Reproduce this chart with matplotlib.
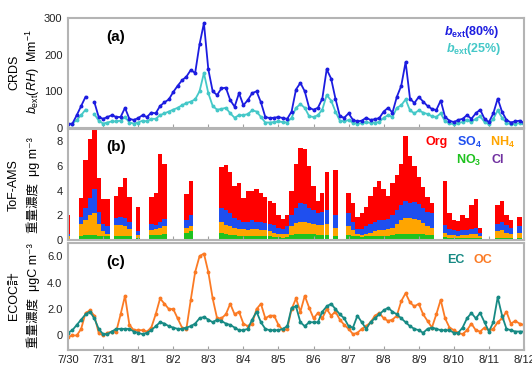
import numpy as np
import matplotlib
matplotlib.use("Agg")
import matplotlib.pyplot as plt

plt.rcParams['font.family'] = ['Liberation Sans', 'Noto Sans CJK JP', 'DejaVu Sans']
plt.rcParams['mathtext.fontset'] = 'custom'
plt.rcParams['mathtext.rm'] = 'Liberation Sans'
plt.rcParams['mathtext.it'] = 'Liberation Sans:italic'
plt.rcParams['mathtext.bf'] = 'Liberation Sans:bold'
plt.rcParams['mathtext.bfit'] = 'Liberation Sans:italic:bold'

nan = np.nan
day_labels = ['7/30', '7/31', '8/1', '8/2', '8/3', '8/4', '8/5', '8/6',
              '8/7', '8/8', '8/9', '8/10', '8/11', '8/12']

# 3-hourly values, one row per day
b80 = [11, 12, 35, 60, 85, nan, 71, 30,
       25, 30, 35, 30, 30, 55, 25, 22,
       27, 35, 30, 42, 40, 60, 70, 78,
       98, 115, 130, 140, 158, 150, 228, 286,
       160, 100, 90, 108, 110, 76, 58, 95,
       62, 76, 95, 100, 70, 30, 27, 28,
       30, 27, 25, 45, 105, 123, 100, 55,
       50, 55, 80, 160, 135, 80, 32, 28,
       40, 22, 18, 20, 28, 22, 24, 27,
       45, 55, 42, 85, 115, 180, 80, 68,
       85, 72, 60, 52, 49, 75, 30, 20,
       16, 22, 25, 35, 25, 40, 50, 25,
       16, 40, 80, 44, 22, 15, 18, 20,
       14]
b25 = [10, 12, 22, 35, 50, nan, 38, 20,
       12, 15, 18, 18, 20, 30, 15, 12,
       15, 20, 18, 25, 25, 35, 40, 45,
       50, 55, 62, 68, 72, 78, 100, 150,
       95, 60, 50, 52, 55, 40, 28, 35,
       35, 38, 48, 45, 30, 15, 15, 16,
       18, 16, 15, 28, 55, 65, 55, 32,
       30, 35, 50, 90, 75, 45, 20, 18,
       22, 14, 12, 13, 16, 14, 15, 16,
       28, 35, 30, 55, 62, 78, 48, 40,
       48, 42, 38, 32, 30, 40, 18, 13,
       10, 14, 16, 22, 16, 25, 32, 16,
       10, 25, 48, 28, 14, 10, 12, 13,
       10]

org = [1.5, 0, 0, 1.5, 3.9, 4.8, 4.8, 2.7,
       2.0, 2.2, 0, 1.8, 2.4, 3.2, 2.0, 0,
       2.0, 0, 0, 2.2, 2.6, 5.5, 4.5, 0,
       0, 0, 0, 2.1, 2.8, 0, 0, 0,
       0, 0, 0, 3.3, 3.7, 3.3, 2.6, 3.0,
       1.9, 2.5, 2.4, 2.6, 2.3, 2.1, 1.9, 1.8,
       1.0, 0.8, 0.9, 2.0, 3.6, 4.5, 4.5, 3.4,
       2.0, 1.0, 1.5, 3.1, 0, 3.7, 0, 0,
       1.6, 1.5, 1.0, 1.3, 1.6, 2.3, 2.8, 3.2,
       2.5, 1.9, 2.6, 2.9, 3.4, 5.2, 3.8, 2.9,
       2.2, 1.7, 1.2, 0.8, 0, 0, 3.6, 1.3,
       0.8, 0.8, 1.2, 1.0, 1.9, 2.3, 0.4, 0,
       0, 0, 1.5, 1.7, 0.8, 0.6, 0, 0.8,
       0]
so4 = [0.2, 0, 0, 0.6, 1.0, 1.4, 1.9, 1.0,
       0.6, 0.6, 0, 0.6, 0.7, 0.7, 0.6, 0,
       0.3, 0, 0, 0.5, 0.3, 0.5, 0.6, 0,
       0, 0, 0, 0.6, 0.9, 0, 0, 0,
       0, 0, 0, 1.1, 1.2, 1.1, 0.8, 0.7,
       0.6, 0.7, 0.7, 0.6, 0.7, 0.6, 0.6, 0.6,
       0.5, 0.45, 0.6, 0.9, 1.2, 1.5, 1.4, 1.2,
       1.1, 1.0, 1.1, 1.1, 0, 1.0, 0, 0,
       1.1, 0.7, 0.4, 0.5, 0.6, 0.7, 0.8, 0.8,
       0.8, 0.8, 1.0, 1.1, 1.2, 1.4, 1.2, 1.4,
       1.3, 1.2, 1.2, 1.2, 0, 0, 0.6, 0.5,
       0.4, 0.35, 0.4, 0.4, 0.4, 0.5, 0.3, 0,
       0, 0, 0.6, 0.7, 0.6, 0.5, 0, 0.5,
       0]
nh4 = [0.2, 0, 0, 0.95, 1.2, 1.6, 1.8, 0.95,
       0.4, 0.2, 0, 0.9, 0.85, 0.75, 0.6, 0,
       0.2, 0, 0, 0.4, 0.5, 0.6, 0.65, 0,
       0, 0, 0, 0.4, 0.4, 0, 0, 0,
       0, 0, 0, 0.9, 0.7, 0.7, 0.6, 0.55,
       0.6, 0.5, 0.55, 0.55, 0.5, 0.5, 0.4, 0.35,
       0.25, 0.25, 0.25, 0.7, 0.9, 1.0, 1.0, 0.9,
       0.85, 0.8, 0.8, 0.9, 0, 0.7, 0, 0,
       0.7, 0.45, 0.2, 0.15, 0.2, 0.3, 0.4, 0.45,
       0.45, 0.55, 0.6, 0.85, 1.1, 1.3, 1.3, 1.2,
       1.1, 0.95, 0.7, 0.6, 0, 0, 0.35, 0.2,
       0.2, 0.15, 0.2, 0.2, 0.3, 0.3, 0.15, 0,
       0, 0, 0.5, 0.6, 0.4, 0.3, 0, 0.4,
       0]
no3 = [0.08, 0, 0, 0.3, 0.35, 0.35, 0.35, 0.3,
       0.25, 0.25, 0, 0.25, 0.3, 0.3, 0.25, 0,
       0.15, 0, 0, 0.35, 0.35, 0.35, 0.4, 0,
       0, 0, 0, 0.55, 0.65, 0, 0, 0,
       0, 0, 0, 0.55, 0.45, 0.35, 0.35, 0.3,
       0.25, 0.25, 0.3, 0.3, 0.25, 0.25, 0.25, 0.2,
       0.2, 0.15, 0.2, 0.35, 0.45, 0.45, 0.45, 0.45,
       0.4, 0.35, 0.35, 0.35, 0, 0.25, 0, 0,
       0.35, 0.3, 0.25, 0.2, 0.25, 0.25, 0.25, 0.3,
       0.3, 0.3, 0.35, 0.4, 0.45, 0.45, 0.45, 0.45,
       0.45, 0.4, 0.35, 0.35, 0, 0, 0.2, 0.15,
       0.15, 0.15, 0.15, 0.15, 0.15, 0.15, 0.1, 0,
       0, 0, 0.15, 0.15, 0.15, 0.15, 0, 0.15,
       0]
cl = [0.02, 0, 0, 0.05, 0.05, 0.05, 0.05, 0.05,
      0.05, 0.05, 0, 0.05, 0.05, 0.05, 0.05, 0,
      0.05, 0, 0, 0.05, 0.05, 0.05, 0.05, 0,
      0, 0, 0, 0.05, 0.05, 0, 0, 0,
      0, 0, 0, 0.05, 0.05, 0.05, 0.05, 0.05,
      0.05, 0.05, 0.05, 0.05, 0.05, 0.05, 0.05, 0.05,
      0.05, 0.05, 0.05, 0.05, 0.05, 0.05, 0.05, 0.05,
      0.05, 0.05, 0.05, 0.05, 0, 0.05, 0, 0,
      0.05, 0.05, 0.05, 0.05, 0.05, 0.05, 0.05, 0.05,
      0.05, 0.05, 0.05, 0.05, 0.05, 0.05, 0.05, 0.05,
      0.05, 0.05, 0.05, 0.05, 0, 0, 0.05, 0.05,
      0.05, 0.05, 0.05, 0.05, 0.05, 0.05, 0.05, 0,
      0, 0, 0.05, 0.05, 0.05, 0.05, 0, 0.05,
      0]

ec = [0.2, 0.4, 0.8, 1.2, 1.6, 1.8, 1.3, 0.5,
      0.1, 0.1, 0.3, 0.5, 0.5, 0.5, 0.5, 0.3,
      0.2, 0.1, 0.2, 0.4, 0.7, 1.0, 0.9, 0.7,
      0.6, 0.5, 0.5, 0.6, 0.7, 0.9, 1.3, 1.4,
      1.2, 1.0, 1.2, 1.1, 0.9, 0.8, 0.6, 0.4,
      0.4, 0.5, 1.2, 1.8, 1.0, 0.5, 0.4, 0.4,
      0.4, 0.5, 0.7, 2.1, 2.2, 1.0, 0.7, 1.0,
      1.0, 1.0, 1.8, 2.2, 2.4, 2.0, 1.6, 1.3,
      0.7, 0.6, 1.5, 1.0, 0.5, 1.0, 1.3, 1.6,
      1.9, 2.1, 1.8, 1.6, 1.3, 1.0, 0.7, 0.5,
      0.4, 0.2, 0.5, 0.6, 0.5, 0.4, 0.4, 0.4,
      0.2, 0.2, 0.6, 1.3, 1.7, 1.3, 1.7, 1.0,
      0.3, 1.0, 2.9, 1.5, 0.5, 0.4, 0.3, 0.3,
      0.3]
oc = [-0.1, 0.0, 0.0, 0.5, 1.7, 1.9, 1.5, 0.2,
      0.0, 0.2, 0.3, 0.3, 1.6, 3.0, 0.8, 0.4,
      0.4, 0.4, 0.3, 0.6, 1.6, 2.8, 2.4, 2.0,
      2.0, 1.3, 0.6, 0.5, 2.7, 4.8, 6.0, 6.2,
      4.8, 2.8, 1.3, 1.3, 1.6, 2.4, 1.6, 1.8,
      0.9, 0.7, 0.9, 2.0, 2.4, 1.3, 1.5, 1.5,
      0.8, 0.4, 0.5, 2.0, 2.8, 1.8, 3.0, 2.1,
      1.3, 1.7, 1.3, 2.0, 1.5, 1.8, 1.2, 0.8,
      0.5, 0.1, 0.2, 0.5, 0.7, 1.0, 1.5, 1.7,
      1.3, 1.1, 1.2, 1.5, 2.6, 3.2, 2.5, 2.2,
      2.4, 1.6, 1.1, 0.6, 1.6, 2.7, 1.3, 0.6,
      0.4, 0.2, 0.1, 0.4, 0.9, 0.4, 0.3, 0.6,
      0.4, 0.5, 1.0, 1.3, 1.8, 0.9, 1.1, 0.9,
      0.8]

t = np.arange(len(b80)) / 8.0
W, H = 532, 365

fig = plt.figure(figsize=(W / 100, H / 100), dpi=100)
ax_a = fig.add_axes([68 / W, 1 - 128 / H, 456 / W, 110 / H])
ax_b = fig.add_axes([68 / W, 1 - 240 / H, 456 / W, 111 / H])
ax_c = fig.add_axes([68 / W, 1 - 350 / H, 456 / W, 107 / H])

# (a) CRDS
ax_a.plot(t, b25, color='#45c8c8', lw=1.3, marker='o', ms=1.8)
ax_a.plot(t, b80, color='#1c1ce0', lw=1.3, marker='o', ms=1.8)
ax_a.set_ylim(0, 300)
ax_a.set_yticks([0, 100, 200, 300])

# (b) ToF-AMS stacked bars
stack = [(cl, '#7030a0'), (no3, '#1fc21f'), (nh4, '#ffa500'),
         (so4, '#1f4fef'), (org, '#ff0000')]
base = np.zeros(len(t))
for vals, col in stack:
    vals = np.array(vals)
    ax_b.bar(t, vals, width=0.125, bottom=base, color=col, linewidth=0)
    base = base + vals
ax_b.set_ylim(0, 9)
ax_b.set_yticks([0, 2, 4, 6, 8])

# (c) EC / OC
ax_c.plot(t, oc, color='#fb7a24', lw=1.3, marker='o', ms=1.8)
ax_c.plot(t, ec, color='#178a84', lw=1.3, marker='o', ms=1.8)
ax_c.set_ylim(-1.1, 7)
ax_c.set_yticks([0, 2, 4, 6])
ax_c.set_yticklabels(['0', '2.0', '4.0', '6.0'])

for ax in (ax_a, ax_b, ax_c):
    ax.set_xlim(0, 13)
    ax.set_xticks(range(14))
    ax.tick_params(direction='in', length=3, color='#a0a0a0', labelsize=8,
                   labelcolor='#222222', top=False, right=False)
    ax.tick_params(axis='y', length=0, pad=4)
    for s in ax.spines.values():
        s.set_color('#b4b4b4')
        s.set_linewidth(1.5)
    ax.set_xticklabels([])
ax_c.set_xticklabels(day_labels)

ax_a.text(0.105, 0.83, '(a)', transform=ax_a.transAxes, fontsize=11,
          fontweight='bold', ha='center', va='center')
ax_b.text(0.105, 0.84, '(b)', transform=ax_b.transAxes, fontsize=11,
          fontweight='bold', ha='center', va='center')
ax_c.text(0.105, 0.82, '(c)', transform=ax_c.transAxes, fontsize=11,
          fontweight='bold', ha='center', va='center')

# y labels (two lines each)
def ylab(y, top, bottom):
    fig.text(14 / W, 1 - y / H, top, rotation=90, fontsize=9,
             ha='center', va='center')
    fig.text(33 / W, 1 - y / H, bottom, rotation=90, fontsize=9,
             ha='center', va='center')

ylab(72, 'CRDS', r'$b_{\rm ext}$($RH$)  Mm$^{-1}$')
ylab(185, 'ToF-AMS', '重量濃度  μg m⁻³')
ylab(296, 'ECOC計', '重量濃度  μgC m⁻³')

# legend texts
def lt(x, y, s, col):
    fig.text(x / W, 1 - y / H, s, color=col, fontsize=9,
             fontweight='bold', ha='left', va='center')

lt(444, 32, r'$\mathbfit{b}_{\mathbf{ext}}$(80%)', '#1c1ce0')
lt(446, 49, r'$\mathbfit{b}_{\mathbf{ext}}$(25%)', '#45c8c8')
lt(425, 142, 'Org', '#ff0000')
lt(457, 142, r'SO$_{\mathbf{4}}$', '#1f4fef')
lt(490, 142, r'NH$_{\mathbf{4}}$', '#ffa500')
lt(456, 160, r'NO$_{\mathbf{3}}$', '#1fc21f')
lt(491, 160, 'Cl', '#7030a0')
lt(447, 260, 'EC', '#178a84')
lt(474, 260, 'OC', '#fb7a24')

fig.savefig('out.png', dpi=100)
